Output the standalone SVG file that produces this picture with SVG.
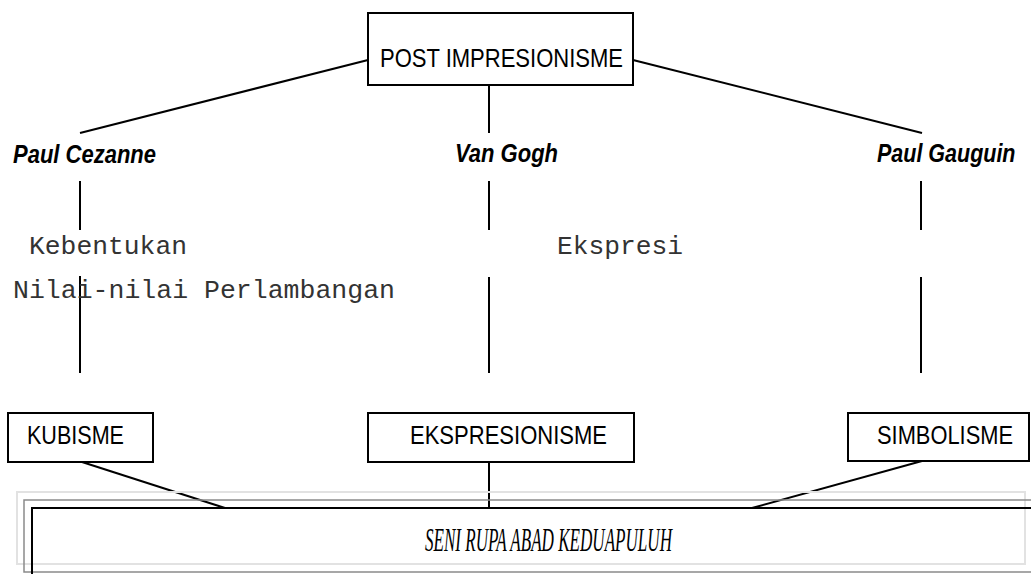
<svg xmlns="http://www.w3.org/2000/svg" width="1031" height="574" viewBox="0 0 1031 574">
<style>
.box{fill:#fff;stroke:#000;stroke-width:2}
.ln{stroke:#000;stroke-width:2;fill:none}
.t{font-family:"Liberation Sans",Arial,sans-serif;font-size:25px;fill:#000}
.n{font-family:"Liberation Sans",Arial,sans-serif;font-size:26px;font-weight:bold;font-style:italic;fill:#000}
.m{font-family:"Liberation Mono","Courier New",monospace;font-size:26px;fill:#333}
.s{font-family:"Liberation Serif","Times New Roman",serif;font-size:33px;font-style:italic;fill:#000}
</style>
<rect width="1031" height="574" fill="#fff"/>
<g id="connectors">
<line class="ln" x1="368" y1="60" x2="80" y2="133"/>
<line class="ln" x1="489" y1="85" x2="489" y2="133"/>
<line class="ln" x1="633" y1="60" x2="922" y2="133"/>
<line class="ln" x1="80" y1="181" x2="80" y2="230"/>
<line class="ln" x1="489" y1="181" x2="489" y2="230"/>
<line class="ln" x1="921" y1="181" x2="921" y2="230"/>
<line class="ln" x1="80" y1="276" x2="80" y2="373"/>
<line class="ln" x1="489" y1="277" x2="489" y2="373"/>
<line class="ln" x1="921" y1="277" x2="921" y2="373"/>
<line class="ln" x1="82" y1="462" x2="225" y2="508"/>
<line class="ln" x1="489" y1="462" x2="489" y2="508"/>
<line class="ln" x1="922" y1="461" x2="752" y2="508"/>
</g>
<g id="post-impresionisme">
<rect class="box" x="368" y="13" width="265" height="72"/>
<text class="t" x="380" y="67" textLength="243" lengthAdjust="spacingAndGlyphs">POST IMPRESIONISME</text>
</g>
<g id="paul-cezanne"><text class="n" x="13" y="163" textLength="143" lengthAdjust="spacingAndGlyphs">Paul Cezanne</text></g>
<g id="van-gogh"><text class="n" x="455" y="162" textLength="103" lengthAdjust="spacingAndGlyphs">Van Gogh</text></g>
<g id="paul-gauguin"><text class="n" style="font-size:21.5px" transform="translate(877,162) scale(1,1.2)">Paul Gauguin</text></g>
<g id="kebentukan"><text class="m" x="29" y="254" textLength="158" lengthAdjust="spacingAndGlyphs">Kebentukan</text></g>
<g id="nilai"><text class="m" x="13" y="298" textLength="382" lengthAdjust="spacingAndGlyphs">Nilai-nilai Perlambangan</text></g>
<g id="ekspresi"><text class="m" x="557" y="254" textLength="126" lengthAdjust="spacingAndGlyphs">Ekspresi</text></g>
<g id="kubisme">
<rect class="box" x="8" y="413" width="145" height="49"/>
<text class="t" x="27" y="444" textLength="97" lengthAdjust="spacingAndGlyphs">KUBISME</text>
</g>
<g id="ekspresionisme">
<rect class="box" x="368" y="413" width="266" height="49"/>
<text class="t" x="410" y="444" textLength="197" lengthAdjust="spacingAndGlyphs">EKSPRESIONISME</text>
</g>
<g id="simbolisme">
<rect class="box" x="848" y="413" width="181" height="48"/>
<text class="t" x="877" y="444" textLength="136" lengthAdjust="spacingAndGlyphs">SIMBOLISME</text>
</g>
<g id="seni-rupa">
<rect x="17" y="492" width="1008" height="72" fill="none" stroke="#e2e2e2" stroke-width="2"/>
<path d="M1031,500 H24 V572 H1031" fill="none" stroke="#8a8a8a" stroke-width="1.5"/>
<path d="M32,574 V508 H1031" fill="none" stroke="#000" stroke-width="2"/>
<text class="s" x="425" y="551" textLength="247" lengthAdjust="spacingAndGlyphs">SENI RUPA ABAD KEDUAPULUH</text>
</g>
</svg>
